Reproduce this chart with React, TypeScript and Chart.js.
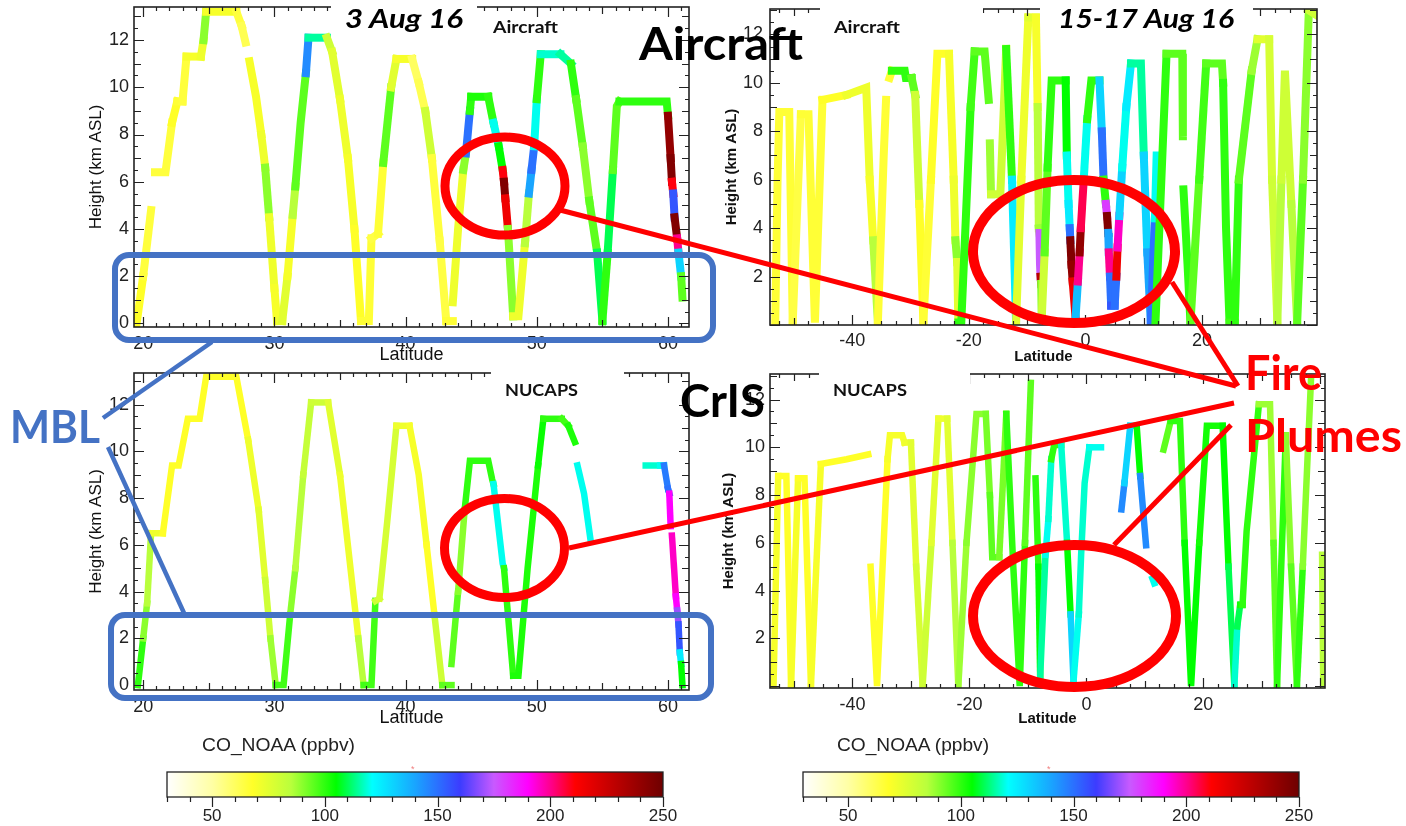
import React, { useEffect, useRef } from 'react';
import { Chart, registerables } from 'chart.js';

Chart.register(...registerables);

// ---------- 3 Aug 16, aircraft track ----------
const aug3AircraftLat = [19.5,20.0,20.6,null,20.9,21.7,22.2,22.6,23.0,23.3,24.4,24.6,24.8,27.1,27.5,27.8,null,28.1,28.6,29.0,29.3,29.6,30.0,30.2,30.6,31.0,31.4,31.6,32.0,32.4,32.6,34.0,34.4,35.0,35.6,36.1,36.6,37.2,37.4,37.9,38.3,38.9,39.3,40.5,41.0,41.5,42.0,42.6,43.1,43.6,null,43.6,44.0,44.4,44.6,44.9,45.0,46.3,46.7,47.1,47.4,47.5,47.6,47.8,48.2,48.6,49.1,49.4,49.6,49.8,50.0,50.3,51.8,52.6,53.0,53.5,54.0,54.6,55.0,55.4,55.8,56.1,56.3,59.9,60.0,60.2,60.3,60.4,60.5,60.7,60.8,61.0,61.1];
const aug3AircraftAlt = [0.0,2.0,4.8,null,6.4,6.4,8.5,9.4,9.4,11.3,11.3,12.0,13.2,13.2,12.6,11.9,null,11.1,9.6,8.0,6.6,4.5,1.5,0.1,0.1,2.0,4.6,5.8,8.5,10.6,12.1,12.1,11.5,9.5,7.0,4.0,0.1,0.1,3.6,3.8,6.8,10.0,11.2,11.2,10.2,9.0,7.0,3.5,0.1,0.1,null,0.9,4.0,6.5,7.2,9.0,9.6,9.6,8.5,7.5,6.5,6.0,5.3,4.0,0.3,0.3,3.4,5.5,6.5,7.5,9.5,11.4,11.4,11.0,9.5,7.5,5.2,3.0,0.1,3.0,6.5,9.2,9.4,9.4,8.8,7.0,6.0,5.5,4.5,3.6,3.0,2.0,1.1];
const aug3AircraftCO = [68,65,62,null,65,65,68,66,65,70,72,90,70,65,62,62,null,70,70,72,90,72,70,72,75,70,85,95,95,145,115,80,75,72,70,68,66,66,64,66,95,75,70,60,62,80,65,64,66,68,null,72,72,90,150,100,102,100,120,105,210,245,215,90,72,72,85,140,150,120,100,118,115,100,95,90,95,110,100,110,95,95,100,100,240,245,210,155,245,200,130,95,95];

// ---------- 15-17 Aug 16, aircraft track ----------
const aug15AircraftLat = [-53.2,-52.8,-52.5,-50.8,-50.2,-48.8,-47.5,-46.4,-45.1,-41.0,-37.6,-37.0,-36.4,-35.6,-34.6,-34.2,null,-33.6,-33.2,-31.0,-30.8,-29.8,-29.2,-28.5,-27.8,-26.5,-25.4,-23.4,-22.6,-22.3,-22.0,-21.8,-21.3,-20.5,-19.7,-19.0,-17.3,-16.6,null,-16.4,-16.2,-14.6,-13.6,-12.6,-11.9,-11.0,-9.8,-8.5,-8.2,-8.0,-7.9,-7.8,-7.7,-7.6,-7.5,-7.0,-6.5,-5.8,-3.4,-3.2,-2.9,-2.7,-2.6,-2.4,-2.2,-1.7,-1.3,-1.0,-0.8,-0.3,0.3,1.0,2.4,2.8,3.1,3.5,3.7,3.9,4.0,4.2,4.4,5.0,5.3,5.5,5.8,6.3,7.0,7.8,9.5,10.0,10.6,11.2,11.9,12.2,null,12.0,13.9,16.6,16.7,null,16.8,17.5,18.0,19.5,20.7,23.4,23.6,24.1,24.7,25.6,26.3,28.5,29.5,31.5,32.0,32.9,33.6,34.2,35.3,36.3,37.3,38.3,39.6];
const aug15AircraftAlt = [0.1,6.0,8.8,8.8,0.1,8.7,8.7,0.1,9.3,9.5,9.8,6.0,3.5,0.1,7.0,9.3,null,10.2,10.5,10.5,10.2,10.2,9.5,5.0,0.1,6.0,11.2,11.2,6.0,3.5,2.6,0.1,0.1,4.5,9.0,11.3,11.3,9.3,null,7.5,5.4,5.4,11.4,6.0,0.1,6.0,12.7,12.7,9.0,4.0,3.8,2.5,2.0,1.7,0.3,3.0,6.5,10.1,10.1,7.0,5.0,4.0,3.5,2.5,1.8,0.3,1.8,3.0,4.0,6.0,8.5,10.1,10.1,8.0,6.0,5.0,4.5,3.8,3.0,2.0,0.8,0.8,2.0,3.2,4.5,6.5,9.0,10.8,10.8,7.0,3.0,0.1,4.4,7.0,null,0.1,11.2,11.2,7.8,null,5.6,2.5,0.1,6.0,10.8,10.8,10.0,4.0,0.1,0.1,6.0,10.5,11.8,11.8,6.0,0.1,6.0,10.5,5.0,0.1,6.0,13.0,12.8];
const aug15AircraftCO = [66,66,66,66,64,66,66,66,68,72,72,70,85,66,66,66,null,66,100,100,100,95,80,68,66,68,68,70,72,90,75,100,100,100,98,95,95,100,null,88,80,80,100,125,75,72,75,70,85,88,175,175,230,90,80,95,100,100,105,120,125,150,245,240,215,135,200,240,205,120,100,100,130,150,100,180,245,140,200,150,155,150,215,195,130,120,125,115,115,130,140,150,120,118,null,100,95,95,95,null,100,100,95,98,95,95,100,100,98,100,95,88,75,78,80,85,80,80,85,95,90,80,85];

// ---------- 3 Aug 16, NUCAPS ----------
const aug3NucapsLat = [19.6,20.0,20.3,20.6,21.5,22.2,22.7,23.4,24.3,24.8,27.1,28.0,28.8,29.3,29.7,30.1,30.7,31.2,31.6,32.2,32.8,34.1,35.0,35.8,36.4,36.8,37.4,37.7,38.0,38.6,39.3,40.3,41.0,41.6,42.2,42.8,43.5,null,43.5,44.0,44.5,44.9,46.3,46.6,46.7,47.4,47.5,48.2,48.6,49.3,50.1,50.5,51.9,52.4,52.9,null,53.1,53.6,54.1,null,58.3,59.4,59.7,60.0,60.1,60.2,null,60.3,60.6,60.7,60.8,60.9,61.0,61.1];
const aug3NucapsAlt = [0.0,2.0,3.5,6.5,6.5,9.4,9.4,11.4,11.4,13.2,13.2,10.5,7.5,4.5,2.0,0.0,0.0,3.0,5.0,9.0,12.1,12.1,9.0,5.0,2.0,0.0,0.0,3.6,3.7,7.0,11.1,11.1,9.0,6.0,3.0,0.0,0.0,null,0.9,4.0,7.5,9.6,9.6,8.8,8.6,5.2,5.0,0.4,0.4,5.0,9.4,11.4,11.4,11.1,10.4,null,9.4,8.2,6.2,null,9.4,9.4,9.4,8.4,8.2,6.8,null,6.4,3.8,3.2,2.6,1.4,0.9,0.0];
const aug3NucapsCO = [100,90,85,72,68,68,68,68,68,68,68,72,75,80,88,98,98,90,85,82,80,75,72,72,85,98,98,80,78,78,72,70,70,68,80,95,95,null,95,90,100,100,100,100,120,120,100,102,102,102,104,100,98,102,102,null,120,120,115,null,118,120,148,150,190,195,null,195,190,170,155,125,105,100];

// ---------- 15-17 Aug 16, NUCAPS ----------
const aug15NucapsLat = [-53.5,-52.7,-51.3,-50.5,-49.3,-48.2,-47.1,-45.4,-41.0,-37.3,null,-36.9,-35.8,-34.0,-33.6,-31.5,-31.1,-30.0,-29.1,-28.0,-26.5,-25.3,-23.8,-22.9,-21.9,-20.5,-18.8,-17.2,-16.5,-16.1,-14.9,-13.7,-12.5,-11.4,-10.5,-9.5,null,-8.7,-8.2,-7.9,-7.0,-6.5,-6.0,-5.5,-4.3,-3.3,-2.7,-2.2,-1.3,-0.9,-0.3,0.5,2.5,null,6.0,6.5,7.5,8.6,9.2,10.2,null,11.3,11.6,null,13.2,14.4,16.0,16.8,17.9,19.3,20.6,23.3,24.3,25.3,25.8,26.3,26.7,27.4,28.0,29.5,31.4,32.0,32.6,34.1,35.0,36.0,37.0,38.4,null,40.3,40.5];
const aug15NucapsAlt = [0.0,8.8,8.8,0.0,8.7,8.7,0.0,9.3,9.5,9.7,null,5.0,0.0,9.5,10.5,10.5,10.2,10.2,5.0,0.0,6.0,11.2,11.2,6.0,0.0,6.0,11.4,11.4,8.0,5.4,5.4,11.4,5.0,0.0,6.0,12.7,null,8.7,5.0,0.4,5.5,7.0,9.5,10.1,10.1,6.0,3.0,0.2,3.0,5.5,8.5,10.0,10.0,null,7.4,8.5,10.9,10.9,8.8,5.9,null,4.5,4.3,null,9.9,11.1,11.1,6.0,0.0,6.0,10.9,10.9,5.0,0.0,2.5,3.4,3.4,6.5,8.0,11.8,11.8,6.0,0.0,10.5,5.0,0.0,5.0,12.8,null,5.5,0.0];
const aug15NucapsCO = [70,68,68,70,68,68,70,68,68,68,null,68,68,70,70,70,72,75,78,80,75,72,75,85,88,90,90,92,95,95,92,100,100,100,95,95,null,100,105,115,120,118,100,100,118,105,130,120,118,118,118,120,120,null,145,130,125,105,145,145,null,120,120,null,95,100,100,105,105,103,103,105,110,118,110,103,100,100,100,88,88,95,100,90,95,100,90,82,null,85,85];

// ---------- tick labels ----------
const aug3LatTicks = [20, 30, 40, 50, 60];
const aug15LatTicks = [-40, -20, 0, 20];
const heightTicksLeft = [0, 2, 4, 6, 8, 10, 12];
const heightTicksRight = [2, 4, 6, 8, 10, 12];
const colorbarTicks = [50, 100, 150, 200, 250];
const colorbarRange = [30, 250];

// ---------- colour map (CO_NOAA ppbv) ----------
const CMAP: [number, number[]][] = [
  [30, [255, 255, 255]],
  [50, [255, 255, 165]],
  [68, [255, 255, 40]],
  [85, [185, 255, 60]],
  [105, [0, 255, 0]],
  [121, [0, 255, 255]],
  [140, [25, 165, 255]],
  [160, [60, 60, 255]],
  [175, [200, 90, 255]],
  [190, [255, 0, 255]],
  [201, [255, 0, 130]],
  [211, [255, 0, 0]],
  [250, [110, 0, 0]],
];

function rgb(c: number[]) {
  return `rgb(${Math.round(c[0])},${Math.round(c[1])},${Math.round(c[2])})`;
}

function coColor(v: number | null) {
  if (v == null) return 'rgba(0,0,0,0)';
  if (v <= CMAP[0][0]) return rgb(CMAP[0][1]);
  for (let i = 1; i < CMAP.length; i++) {
    if (v <= CMAP[i][0]) {
      const [a, ca] = CMAP[i - 1];
      const [b, cb] = CMAP[i];
      const t = (v - a) / (b - a);
      return rgb([0, 1, 2].map((k) => ca[k] + (cb[k] - ca[k]) * t));
    }
  }
  return rgb(CMAP[CMAP.length - 1][1]);
}

const SANS = "'Liberation Sans', Arial, sans-serif";

function isMult(v: number, step: number) {
  const r = v / step;
  return Math.abs(r - Math.round(r)) < 1e-6;
}

function zeroPad(s: any) {
  s.paddingTop = 0;
  s.paddingBottom = 0;
  s.paddingLeft = 0;
  s.paddingRight = 0;
}

type PanelProps = {
  left: number; top: number; w: number; h: number;
  padTop: number; padRight: number; yAxisW: number; xAxisH: number;
  xMin: number; xMax: number; yMin: number; yMax: number;
  xTicks: number[]; yTicks: number[];
  xMinorStart: number; xMinorStep: number; xMidStep: number; xMajorStep: number;
  lat: (number | null)[]; alt: (number | null)[]; co: (number | null)[];
  lineWidth: number; bold: boolean;
  yTickPad: number; xTickPad: number; yTitlePad: number; xTitlePad: number;
};

function TrackPanel(p: PanelProps) {
  const ref = useRef<HTMLCanvasElement>(null);
  useEffect(() => {
    const canvas = ref.current;
    if (!canvas) return;
    const pts = p.lat.map((x, i) => ({ x, y: p.alt[i] }));
    const co = p.co;
    const frame = {
      id: 'frameTicks',
      afterDatasetsDraw(chart: any) {
        const { ctx, chartArea: a, scales } = chart;
        const xs = scales.x;
        const ys = scales.y;
        ctx.save();
        ctx.strokeStyle = '#222';
        ctx.lineWidth = 1.2;
        ctx.beginPath();
        for (let v = p.xMinorStart; v <= p.xMax + 1e-9; v += p.xMinorStep) {
          const px = Math.round(xs.getPixelForValue(v)) + 0.5;
          const len = isMult(v, p.xMajorStep) ? 10 : isMult(v, p.xMidStep) ? 7 : 4;
          ctx.moveTo(px, a.bottom); ctx.lineTo(px, a.bottom - len);
          ctx.moveTo(px, a.top); ctx.lineTo(px, a.top + len);
        }
        for (let v = 0; v <= p.yMax + 1e-9; v += 0.5) {
          const py = Math.round(ys.getPixelForValue(v)) + 0.5;
          const len = isMult(v, 2) ? 10 : isMult(v, 1) ? 7 : 4;
          ctx.moveTo(a.left, py); ctx.lineTo(a.left + len, py);
          ctx.moveTo(a.right, py); ctx.lineTo(a.right - len, py);
        }
        ctx.stroke();
        ctx.lineWidth = 1.6;
        ctx.strokeRect(a.left, a.top, a.right - a.left, a.bottom - a.top);
        ctx.restore();
      },
    };
    const titleFont = p.bold
      ? { family: SANS, size: 15, weight: 'bold' as const }
      : { family: SANS, size: 17, weight: 'normal' as const };
    const xTitleFont = p.bold
      ? { family: SANS, size: 15, weight: 'bold' as const }
      : { family: SANS, size: 18, weight: 'normal' as const };
    const chart = new Chart(canvas, {
      type: 'line',
      data: {
        datasets: [
          {
            data: pts as any,
            borderColor: '#ffff40',
            borderWidth: p.lineWidth,
            pointRadius: 0,
            pointHoverRadius: 0,
            borderCapStyle: 'square',
            borderJoinStyle: 'miter',
            spanGaps: false,
            tension: 0,
            segment: {
              borderColor: (c: any) => coColor(co[c.p0DataIndex] as number),
              borderCapStyle: 'square',
            },
          },
        ],
      },
      options: {
        animation: false,
        responsive: false,
        maintainAspectRatio: false,
        events: [],
        layout: { autoPadding: false, padding: { left: 0, top: p.padTop, right: p.padRight, bottom: 0 } },
        plugins: { legend: { display: false }, tooltip: { enabled: false } },
        scales: {
          x: {
            type: 'linear',
            min: p.xMin,
            max: p.xMax,
            afterBuildTicks: (s: any) => { s.ticks = p.xTicks.map((v) => ({ value: v })); },
            afterFit: (s: any) => { s.height = p.xAxisH; zeroPad(s); },
            grid: { display: false, drawTicks: false },
            border: { display: false },
            ticks: {
              autoSkip: false, maxRotation: 0, padding: p.xTickPad, color: '#222',
              font: { family: SANS, size: 18 },
              callback: (v: any) => String(v),
            },
            title: {
              display: true, text: 'Latitude', color: '#111', font: xTitleFont,
              padding: { top: 0, bottom: p.xTitlePad },
            },
          },
          y: {
            type: 'linear',
            min: p.yMin,
            max: p.yMax,
            afterBuildTicks: (s: any) => { s.ticks = p.yTicks.map((v) => ({ value: v })); },
            afterFit: (s: any) => { s.width = p.yAxisW; zeroPad(s); },
            grid: { display: false, drawTicks: false },
            border: { display: false },
            ticks: {
              autoSkip: false, padding: p.yTickPad, color: '#222',
              font: { family: SANS, size: 18 },
              callback: (v: any) => String(v),
            },
            title: {
              display: true, text: 'Height (km ASL)', color: '#111', font: titleFont,
              padding: { top: p.yTitlePad, bottom: 0 },
            },
          },
        },
      } as any,
      plugins: [frame],
    });
    return () => chart.destroy();
  }, []);
  return (
    <canvas
      ref={ref}
      width={p.w}
      height={p.h}
      style={{ position: 'absolute', left: p.left, top: p.top, width: p.w, height: p.h }}
    />
  );
}

type BarProps = { left: number; top: number; w: number; h: number; padL: number; padR: number };

function ColorBar(p: BarProps) {
  const ref = useRef<HTMLCanvasElement>(null);
  useEffect(() => {
    const canvas = ref.current;
    if (!canvas) return;
    const marks = {
      id: 'cbTicks',
      afterDraw(chart: any) {
        const { ctx, chartArea: a, scales } = chart;
        const xs = scales.x;
        ctx.save();
        ctx.strokeStyle = '#222';
        ctx.lineWidth = 1.2;
        ctx.beginPath();
        for (let v = colorbarRange[0]; v <= colorbarRange[1] + 1e-9; v += 10) {
          const px = Math.round(xs.getPixelForValue(v)) + 0.5;
          const len = isMult(v, 50) ? 10 : 5;
          ctx.moveTo(px, a.bottom); ctx.lineTo(px, a.bottom + len);
        }
        ctx.stroke();
        ctx.lineWidth = 1.3;
        ctx.strokeRect(a.left, a.top, a.right - a.left, a.bottom - a.top);
        ctx.restore();
      },
    };
    const chart = new Chart(canvas, {
      type: 'bar',
      data: {
        labels: ['CO_NOAA'],
        datasets: [
          {
            data: [[colorbarRange[0], colorbarRange[1]]] as any,
            backgroundColor: (c: any) => {
              const ch = c.chart;
              if (!ch.chartArea) return '#ccc';
              const xs = ch.scales.x;
              const x0 = xs.getPixelForValue(colorbarRange[0]);
              const x1 = xs.getPixelForValue(colorbarRange[1]);
              const g = ch.ctx.createLinearGradient(x0, 0, x1, 0);
              const span = colorbarRange[1] - colorbarRange[0];
              CMAP.forEach(([v, col]) => g.addColorStop((v - colorbarRange[0]) / span, rgb(col)));
              return g;
            },
            borderWidth: 0,
            barPercentage: 1,
            categoryPercentage: 1,
          },
        ],
      },
      options: {
        indexAxis: 'y',
        animation: false,
        responsive: false,
        maintainAspectRatio: false,
        events: [],
        layout: { autoPadding: false, padding: { left: p.padL, right: p.padR, top: 12, bottom: 0 } },
        plugins: { legend: { display: false }, tooltip: { enabled: false } },
        scales: {
          x: {
            type: 'linear',
            min: colorbarRange[0],
            max: colorbarRange[1],
            afterBuildTicks: (s: any) => { s.ticks = colorbarTicks.map((v) => ({ value: v })); },
            afterFit: (s: any) => { s.height = 29; zeroPad(s); },
            grid: { display: false, drawTicks: false },
            border: { display: false },
            ticks: {
              autoSkip: false, maxRotation: 0, padding: 9, color: '#222',
              font: { family: SANS, size: 17 },
              callback: (v: any) => String(v),
            },
          },
          y: { display: false },
        },
      } as any,
      plugins: [marks],
    });
    return () => chart.destroy();
  }, []);
  return (
    <canvas
      ref={ref}
      width={p.w}
      height={p.h}
      style={{ position: 'absolute', left: p.left, top: p.top, width: p.w, height: p.h }}
    />
  );
}

const CAL = "Lato, 'Open Sans', sans-serif";
const BLUE = '#4472C4';
const RED = '#FF0000';

function Overlay() {
  const big = { fontFamily: CAL, fontWeight: 700, fontSize: 46, lengthAdjust: 'spacingAndGlyphs' as const };
  const small = { fontFamily: CAL, fontWeight: 700, fontSize: 17, lengthAdjust: 'spacingAndGlyphs' as const, fill: '#111' };
  const date = { fontFamily: CAL, fontWeight: 700, fontStyle: 'italic', fontSize: 26, lengthAdjust: 'spacingAndGlyphs' as const, fill: '#000' };
  return (
    <svg width={1406} height={826} style={{ position: 'absolute', left: 0, top: 0, pointerEvents: 'none' }}>
      <rect x={331} y={0} width={146} height={21} fill="#fff" />
      <rect x={820} y={0} width={163} height={22} fill="#fff" />
      <rect x={1040} y={0} width={213} height={22} fill="#fff" />
      <rect x={491} y={366} width={133} height={20} fill="#fff" />
      <rect x={819} y={366} width={151} height={20} fill="#fff" />

      <text x={345} y={28} textLength={118} {...date}>3 Aug 16</text>
      <text x={1058} y={28} textLength={176} {...date}>15-17 Aug 16</text>
      <text x={493} y={33} textLength={65} {...small}>Aircraft</text>
      <text x={834} y={33} textLength={66} {...small}>Aircraft</text>
      <text x={505} y={396} textLength={73} {...small}>NUCAPS</text>
      <text x={833} y={396} textLength={74} {...small}>NUCAPS</text>

      <text x={639} y={60} textLength={164} fill="#000" {...big}>Aircraft</text>
      <text x={680} y={417} textLength={85} fill="#000" {...big}>CrIS</text>

      <rect x={115} y={255} width={598} height={85} rx={14} fill="none" stroke={BLUE} strokeWidth={6} />
      <rect x={111} y={615} width={600} height={83} rx={14} fill="none" stroke={BLUE} strokeWidth={6} />
      <line x1={103} y1={418} x2={212} y2={342} stroke={BLUE} strokeWidth={4.5} />
      <line x1={108} y1={447} x2={184} y2={613} stroke={BLUE} strokeWidth={4.5} />
      <text x={10} y={443} textLength={90} fill={BLUE} {...big}>MBL</text>

      <ellipse cx={505} cy={186} rx={60} ry={49} fill="none" stroke={RED} strokeWidth={9} />
      <ellipse cx={1074} cy={251.5} rx={101} ry={71.5} fill="none" stroke={RED} strokeWidth={10} />
      <ellipse cx={504.5} cy={548} rx={60} ry={49.5} fill="none" stroke={RED} strokeWidth={9} />
      <ellipse cx={1074.5} cy={616} rx={101.5} ry={71} fill="none" stroke={RED} strokeWidth={10} />
      <line x1={560} y1={210} x2={1236} y2={386} stroke={RED} strokeWidth={5} />
      <line x1={569} y1={548} x2={1234} y2={403} stroke={RED} strokeWidth={5} />
      <line x1={1172} y1={282} x2={1238} y2={386} stroke={RED} strokeWidth={5} />
      <line x1={1114} y1={545} x2={1231} y2={425} stroke={RED} strokeWidth={5} />
      <text x={1245} y={390} textLength={77} fill={RED} {...big} fontSize={48}>Fire</text>
      <text x={1245} y={452} textLength={157} fill={RED} {...big} fontSize={46}>Plumes</text>

      <text x={202} y={751} fontFamily={SANS} fontSize={19} fill="#222" textLength={153} lengthAdjust="spacingAndGlyphs">CO_NOAA (ppbv)</text>
      <text x={837} y={751} fontFamily={SANS} fontSize={19} fill="#222" textLength={152} lengthAdjust="spacingAndGlyphs">CO_NOAA (ppbv)</text>
      <text x={411} y={772} fontFamily={SANS} fontSize={9} fill="#f08080">*</text>
      <text x={1047} y={772} fontFamily={SANS} fontSize={9} fill="#f08080">*</text>
    </svg>
  );
}

export default function App() {
  return (
    <div style={{ position: 'absolute', left: 0, top: 0, width: 1406, height: 826, background: '#fff', overflow: 'hidden' }}>
      <TrackPanel
        left={80} top={0} w={620} h={367} padTop={7} padRight={11} yAxisW={54} xAxisH={40}
        xMin={19.3} xMax={61.6} yMin={-0.15} yMax={13.4}
        xTicks={aug3LatTicks} yTicks={heightTicksLeft}
        xMinorStart={20} xMinorStep={1} xMidStep={5} xMajorStep={10}
        lat={aug3AircraftLat} alt={aug3AircraftAlt} co={aug3AircraftCO}
        lineWidth={8} bold={false} yTickPad={5} xTickPad={6} yTitlePad={5.8} xTitlePad={1.2}
      />
      <TrackPanel
        left={720} top={0} w={610} h={367} padTop={9} padRight={13} yAxisW={50} xAxisH={42}
        xMin={-54.1} xMax={39.7} yMin={0} yMax={13.05}
        xTicks={aug15LatTicks} yTicks={heightTicksRight}
        xMinorStart={-52.5} xMinorStep={2.5} xMidStep={10} xMajorStep={20}
        lat={aug15AircraftLat} alt={aug15AircraftAlt} co={aug15AircraftCO}
        lineWidth={8} bold={true} yTickPad={7} xTickPad={5} yTitlePad={3} xTitlePad={1}
      />
      <TrackPanel
        left={80} top={367} w={620} h={363} padTop={6} padRight={11} yAxisW={54} xAxisH={40}
        xMin={19.3} xMax={61.6} yMin={-0.21} yMax={13.36}
        xTicks={aug3LatTicks} yTicks={heightTicksLeft}
        xMinorStart={20} xMinorStep={1} xMidStep={5} xMajorStep={10}
        lat={aug3NucapsLat} alt={aug3NucapsAlt} co={aug3NucapsCO}
        lineWidth={6.5} bold={false} yTickPad={5} xTickPad={6} yTitlePad={5.8} xTitlePad={1.2}
      />
      <TrackPanel
        left={720} top={367} w={620} h={363} padTop={7} padRight={15} yAxisW={50} xAxisH={42}
        xMin={-54.1} xMax={40.8} yMin={-0.08} yMax={13.07}
        xTicks={aug15LatTicks} yTicks={heightTicksRight}
        xMinorStart={-52.5} xMinorStep={2.5} xMidStep={10} xMajorStep={20}
        lat={aug15NucapsLat} alt={aug15NucapsAlt} co={aug15NucapsCO}
        lineWidth={6.5} bold={true} yTickPad={5} xTickPad={6} yTitlePad={0} xTitlePad={2}
      />
      <ColorBar left={150} top={760} w={540} h={66} padL={17} padR={27} />
      <ColorBar left={785} top={760} w={540} h={66} padL={18} padR={26} />
      <Overlay />
    </div>
  );
}
